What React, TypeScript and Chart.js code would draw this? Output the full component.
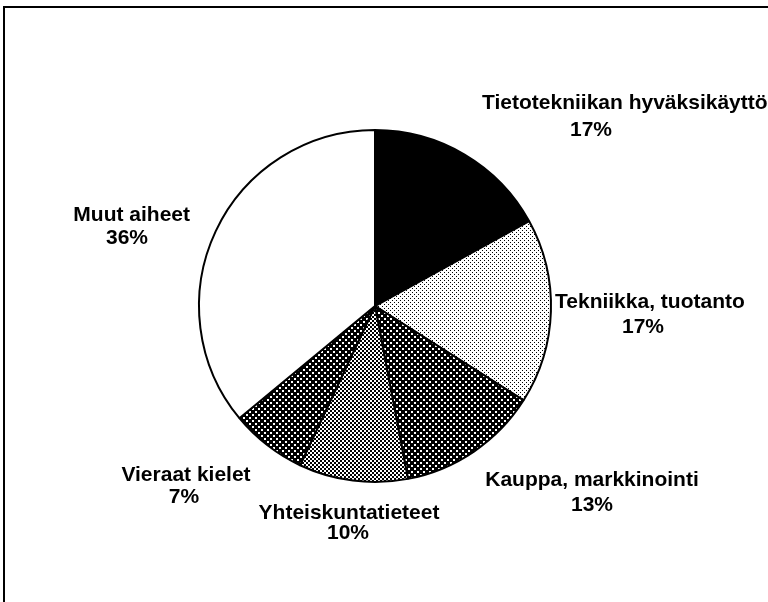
import React, { useEffect, useRef } from "react";
import { Chart, registerables } from "chart.js";

Chart.register(...registerables);

const categories = [
  "Tietotekniikan hyväksikäyttö",
  "Tekniikka, tuotanto",
  "Kauppa, markkinointi",
  "Yhteiskuntatieteet",
  "Vieraat kielet",
  "Muut aiheet",
];
const shares = [17, 17, 13, 10, 7, 36];
const percentLabels = ["17%", "17%", "13%", "10%", "7%", "36%"];

// label layout relative to pie centre (px): [line1 x, line1 y, line1 align, line2 x, line2 y]
const labelLayout: [number, number, CanvasTextAlign, number, number][] = [
  [107, -203, "left", 216, -176],
  [180, -4, "left", 268, 21],
  [217, 174, "center", 217, 199],
  [-26, 207, "center", -27, 227],
  [-189, 169, "center", -191, 191],
  [-185, -91, "right", -248, -68],
];

function makePattern(
  size: number,
  bg: string,
  fg: string,
  dots: [number, number, number, number][]
): CanvasPattern | string {
  const c = document.createElement("canvas");
  c.width = size;
  c.height = size;
  const x = c.getContext("2d");
  if (!x) return bg;
  x.fillStyle = bg;
  x.fillRect(0, 0, size, size);
  x.fillStyle = fg;
  dots.forEach(([a, b, w, h]) => x.fillRect(a, b, w, h));
  const p = x.createPattern(c, "repeat");
  return p || bg;
}

const labelPlugin = {
  id: "pieLabels",
  afterDraw(chart: any) {
    const meta = chart.getDatasetMeta(0);
    const ctx = chart.ctx;
    if (!meta.data.length) return;
    const cx = meta.data[0].x;
    const cy = meta.data[0].y;
    ctx.save();
    ctx.fillStyle = "#000";
    ctx.font = "bold 21px 'Liberation Sans', Arial, sans-serif";
    ctx.textBaseline = "middle";
    categories.forEach((name, i) => {
      const [x1, y1, al, x2, y2] = labelLayout[i];
      ctx.textAlign = al;
      ctx.fillText(name, cx + x1, cy + y1);
      ctx.textAlign = "center";
      ctx.fillText(percentLabels[i], cx + x2, cy + y2);
    });
    ctx.restore();
  },
};

export default function App() {
  const ref = useRef<HTMLCanvasElement | null>(null);
  useEffect(() => {
    if (!ref.current) return;
    const light = makePattern(4, "#ffffff", "#000000", [
      [0, 0, 1, 1],
      [2, 2, 1, 1],
    ]);
    const dark = makePattern(6, "#000000", "#ffffff", [
      [0, 0, 2, 2],
      [3, 3, 2, 2],
    ]);
    const medium = makePattern(4, "#ffffff", "#000000", [
      [0, 0, 2, 2],
      [2, 2, 2, 2],
    ]);
    const fills = ["#000000", light, dark, medium, dark, "#ffffff"];
    const chart = new Chart(ref.current, {
      type: "pie",
      data: {
        labels: categories,
        datasets: [
          {
            data: shares,
            backgroundColor: fills as any,
            borderColor: "#000000",
            borderWidth: 2,
          },
        ],
      },
      options: {
        animation: false,
        responsive: false,
        devicePixelRatio: 1,
        layout: { padding: { left: 198, top: 129, right: 216, bottom: 119 } },
        plugins: {
          legend: { display: false },
          tooltip: { enabled: false },
        },
      },
      plugins: [labelPlugin],
    });
    return () => chart.destroy();
  }, []);
  return (
    <div
      style={{
        position: "fixed",
        left: 0,
        top: 0,
        width: 768,
        height: 602,
        background: "#fff",
        overflow: "hidden",
      }}
    >
      <div
        style={{
          position: "absolute",
          left: 3,
          top: 6,
          width: 800,
          height: 700,
          borderTop: "2px solid #000",
          borderLeft: "2px solid #000",
        }}
      />
      <canvas
        ref={ref}
        width={768}
        height={602}
        style={{ position: "absolute", left: 0, top: 0 }}
      />
    </div>
  );
}
